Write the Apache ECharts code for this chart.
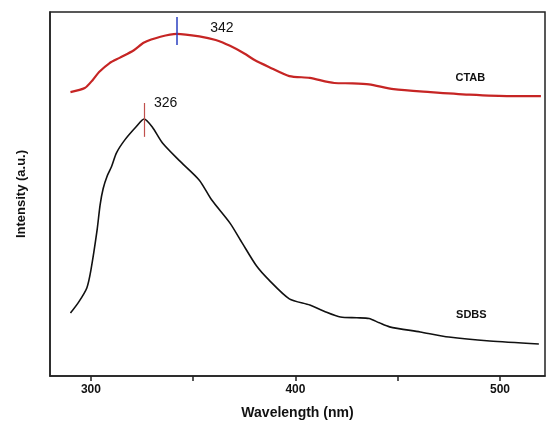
<!DOCTYPE html>
<html>
<head>
<meta charset="utf-8">
<script src="https://cdn.jsdelivr.net/npm/echarts@6/dist/echarts.min.js"></script>
<style>
  html, body { margin: 0; padding: 0; background: #fff; }
  #chart { width: 556px; height: 429px; }
</style>
</head>
<body>
<div id="chart"></div>
<script>
// wavelength (nm) / intensity (a.u.)
var ctabX = [290, 297, 301, 304, 309, 314, 321, 326, 334, 342, 353, 361, 368, 375, 380, 387, 397, 407, 419, 428, 436, 448, 466, 485, 505, 520];
var ctabY = [78.0, 79.1, 81.4, 83.5, 85.9, 87.4, 89.5, 91.6, 93.2, 94.0, 93.3, 92.3, 90.7, 88.6, 86.8, 84.9, 82.4, 81.9, 80.5, 80.4, 80.1, 78.8, 78.0, 77.3, 76.9, 76.9];

var sdbsX = [290, 294, 298, 300, 303, 304.5, 306, 308, 310, 312.5, 316.5, 322, 326, 330, 335, 343, 353, 359, 368, 374, 381, 387, 397, 407, 414, 422, 430, 436, 441, 446, 461, 475, 495, 519];
var sdbsY = [17.3, 20.3, 24.2, 29.1, 40.0, 47.0, 51.5, 55.0, 57.4, 61.3, 64.8, 68.4, 70.6, 68.4, 64.0, 59.3, 53.8, 48.4, 42.0, 36.5, 30.2, 26.4, 21.2, 19.5, 17.8, 16.2, 16.0, 15.8, 14.6, 13.5, 12.1, 10.7, 9.6, 8.8];

var tickValues = [300, 350, 400, 450, 500];
var tickLabels = [300, 400, 500];

// peak markers: wavelength, segment bottom/top, label position
var ctabPeak = { x: 342, y0: 90.9, y1: 98.6, text: '342', lx: 364, ly: 95.6 };
var sdbsPeak = { x: 326, y0: 65.7, y1: 75.0, text: '326', lx: 336.5, ly: 75.0 };

function pairs(xs, ys) {
    return xs.map(function (x, i) { return [x, ys[i]]; });
}

function textMark(x, y, text, size, weight) {
    return {
        coord: [x, y],
        symbol: 'rect',
        symbolSize: 1,
        itemStyle: { color: 'rgba(0,0,0,0)' },
        label: {
            show: true, position: 'inside', formatter: text,
            color: '#111', fontSize: size, fontWeight: weight,
            fontFamily: 'Liberation Sans'
        }
    };
}

var chart = echarts.init(document.getElementById('chart'));
chart.setOption({
    animation: false,
    grid: {
        left: 50, right: 11, top: 12, bottom: 53,
        show: true, borderColor: '#222', borderWidth: 1.5
    },
    xAxis: {
        type: 'value', min: 280, max: 522,
        name: 'Wavelength (nm)', nameLocation: 'middle', nameGap: 30,
        nameTextStyle: { color: '#111', fontSize: 14, fontWeight: 'bold', fontFamily: 'Liberation Sans' },
        axisLine: { show: true, lineStyle: { color: '#222', width: 1.5 } },
        axisTick: { show: true, length: 5, customValues: tickValues, lineStyle: { color: '#222', width: 1.5 } },
        axisLabel: { customValues: tickLabels, color: '#111', fontSize: 12, fontWeight: 'bold', fontFamily: 'Liberation Sans', margin: 8 },
        splitLine: { show: false }
    },
    yAxis: {
        type: 'value', min: 0, max: 100,
        name: 'Intensity (a.u.)', nameLocation: 'middle', nameGap: 22,
        nameTextStyle: { color: '#111', fontSize: 13, fontWeight: 'bold', fontFamily: 'Liberation Sans' },
        axisLine: { show: true, lineStyle: { color: '#222', width: 1.5 } },
        axisTick: { show: false },
        axisLabel: { show: false },
        splitLine: { show: false }
    },
    series: [
        {
            name: 'CTAB', type: 'line', data: pairs(ctabX, ctabY),
            showSymbol: false, smooth: 0.25,
            lineStyle: { color: '#c62524', width: 2.2 },
            markLine: {
                silent: true, symbol: 'none', label: { show: false },
                lineStyle: { color: '#2a3fc0', width: 1.5, type: 'solid' },
                data: [[{ coord: [ctabPeak.x, ctabPeak.y0] }, { coord: [ctabPeak.x, ctabPeak.y1] }]]
            },
            markPoint: {
                silent: true,
                data: [
                    textMark(ctabPeak.lx, ctabPeak.ly, ctabPeak.text, 14, 'normal'),
                    textMark(485.5, 81.9, 'CTAB', 11, 'bold')
                ]
            }
        },
        {
            name: 'SDBS', type: 'line', data: pairs(sdbsX, sdbsY),
            showSymbol: false, smooth: 0.25,
            lineStyle: { color: '#111', width: 1.6 },
            markLine: {
                silent: true, symbol: 'none', label: { show: false },
                lineStyle: { color: '#c0504d', width: 1.2, type: 'solid' },
                data: [[{ coord: [sdbsPeak.x, sdbsPeak.y0] }, { coord: [sdbsPeak.x, sdbsPeak.y1] }]]
            },
            markPoint: {
                silent: true,
                data: [
                    textMark(sdbsPeak.lx, sdbsPeak.ly, sdbsPeak.text, 14, 'normal'),
                    textMark(486, 16.8, 'SDBS', 11, 'bold')
                ]
            }
        }
    ]
});
</script>
</body>
</html>
